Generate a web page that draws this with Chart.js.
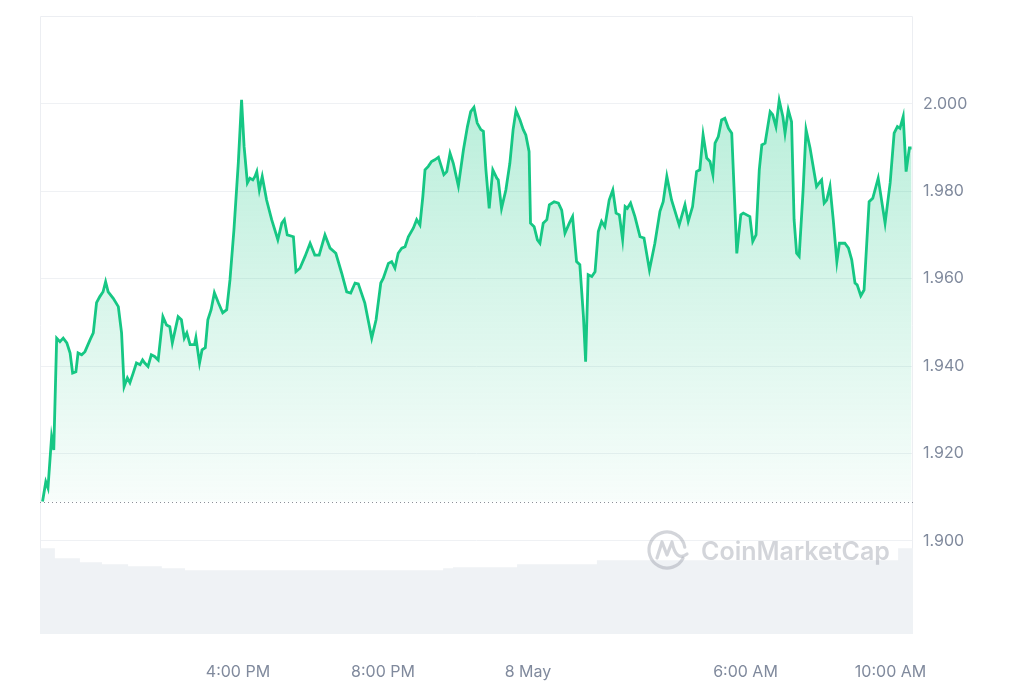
<!DOCTYPE html>
<html lang="en">
<head>
    <meta charset="UTF-8">
    <title>Price chart</title>
    <script src="https://cdn.jsdelivr.net/npm/chart.js"></script>
    <style>
        body { margin: 0; background: #fff; }
    </style>
</head>
<body>
    <canvas id="priceChart" width="1024" height="683"></canvas>

    <script>
        // time in hours relative to 8 May 00:00
        const times = [
            -13.39,-13.30,-13.24,-13.14,-13.08,-13.00,-12.91,-12.82,-12.72,-12.63,
            -12.56,-12.47,-12.41,-12.31,-12.22,-12.08,-11.99,-11.90,-11.81,-11.72,
            -11.65,-11.58,-11.44,-11.30,-11.21,-11.14,-11.05,-10.98,-10.89,-10.80,
            -10.70,-10.63,-10.57,-10.48,-10.39,-10.30,-10.20,-10.07,-9.97,-9.88,
            -9.81,-9.65,-9.56,-9.48,-9.41,-9.32,-9.20,-9.16,-9.06,-8.99,
            -8.90,-8.83,-8.74,-8.65,-8.54,-8.42,-8.31,-8.22,-8.11,-7.99,
            -7.90,-7.83,-7.74,-7.67,-7.59,-7.53,-7.48,-7.41,-7.33,-7.21,
            -7.07,-6.90,-6.79,-6.72,-6.64,-6.47,-6.40,-6.29,-6.15,-6.01,
            -5.88,-5.76,-5.60,-5.46,-5.30,-5.14,-5.00,-4.89,-4.77,-4.68,
            -4.50,-4.41,-4.31,-4.19,-4.06,-3.99,-3.85,-3.76,-3.67,-3.58,
            -3.48,-3.39,-3.30,-3.16,-3.07,-2.98,-2.90,-2.84,-2.75,-2.66,
            -2.57,-2.47,-2.32,-2.24,-2.15,-2.06,-1.92,-1.78,-1.67,-1.58,
            -1.49,-1.40,-1.30,-1.23,-1.16,-1.07,-0.97,-0.86,-0.82,-0.73,
            -0.61,-0.50,-0.41,-0.33,-0.22,-0.13,-0.06,0.03,0.07,0.17,
            0.26,0.33,0.42,0.52,0.59,0.72,0.84,0.93,1.02,1.14,
            1.23,1.34,1.43,1.53,1.59,1.66,1.76,1.85,1.94,2.03,
            2.12,2.24,2.34,2.43,2.52,2.61,2.68,2.74,2.83,2.95,
            3.09,3.20,3.35,3.50,3.64,3.73,3.83,3.96,4.17,4.33,
            4.42,4.54,4.65,4.74,4.83,4.93,5.02,5.10,5.16,5.25,
            5.34,5.43,5.53,5.62,5.76,5.87,5.94,6.12,6.20,6.29,
            6.38,6.45,6.54,6.68,6.75,6.84,6.93,7.03,7.09,7.18,
            7.27,7.34,7.41,7.48,7.59,7.67,7.78,7.96,8.06,8.10,
            8.17,8.24,8.33,8.42,8.52,8.59,8.74,8.84,8.93,9.02,
            9.08,9.18,9.27,9.41,9.51,9.66,9.85,9.99,10.10,10.19,
            10.26,10.35,10.43,10.52,10.58
        ];

        const prices = [
            1.9090,1.9135,1.9121,1.9238,1.9208,1.9464,1.9456,1.9464,1.9453,1.9430,
            1.9384,1.9387,1.9430,1.9426,1.9433,1.9460,1.9476,1.9545,1.9559,1.9570,
            1.9593,1.9570,1.9555,1.9536,1.9476,1.9353,1.9373,1.9362,1.9384,1.9407,
            1.9403,1.9414,1.9407,1.9399,1.9426,1.9422,1.9414,1.9513,1.9494,1.9490,
            1.9453,1.9513,1.9506,1.9464,1.9476,1.9449,1.9449,1.9465,1.9407,1.9437,
            1.9442,1.9506,1.9529,1.9568,1.9545,1.9522,1.9529,1.9597,1.9712,1.9865,
            2.0009,1.9902,1.9819,1.9830,1.9826,1.9834,1.9845,1.9803,1.9834,1.9780,
            1.9735,1.9689,1.9727,1.9735,1.9700,1.9696,1.9616,1.9624,1.9651,1.9681,
            1.9654,1.9654,1.9700,1.9670,1.9658,1.9613,1.9570,1.9567,1.9590,1.9588,
            1.9544,1.9506,1.9464,1.9506,1.9590,1.9601,1.9635,1.9639,1.9624,1.9658,
            1.9670,1.9673,1.9696,1.9716,1.9735,1.9723,1.9788,1.9849,1.9857,1.9868,
            1.9872,1.9878,1.9838,1.9845,1.9887,1.9864,1.9812,1.9895,1.9948,1.9982,
            1.9992,1.9956,1.9941,1.9937,1.9849,1.9761,1.9849,1.9830,1.9826,1.9761,
            1.9803,1.9864,1.9941,1.9985,1.9963,1.9941,1.9929,1.9891,1.9727,1.9719,
            1.9689,1.9681,1.9727,1.9735,1.9769,1.9776,1.9773,1.9757,1.9704,1.9727,
            1.9742,1.9639,1.9632,1.9513,1.9410,1.9609,1.9605,1.9616,1.9708,1.9731,
            1.9719,1.9780,1.9803,1.9750,1.9746,1.9690,1.9765,1.9761,1.9773,1.9742,
            1.9696,1.9693,1.9620,1.9681,1.9754,1.9776,1.9834,1.9780,1.9723,1.9769,
            1.9731,1.9765,1.9845,1.9849,1.9929,1.9876,1.9868,1.9838,1.9910,1.9925,
            1.9963,1.9967,1.9944,1.9933,1.9658,1.9746,1.9750,1.9742,1.9685,1.9700,
            1.9849,1.9906,1.9910,1.9982,1.9975,1.9948,2.0008,1.9971,1.9933,1.9986,
            1.9959,1.9735,1.9658,1.9651,1.9803,1.9941,1.9899,1.9811,1.9822,1.9826,
            1.9773,1.9780,1.9811,1.9735,1.9639,1.9681,1.9681,1.9670,1.9643,1.9590,
            1.9586,1.9561,1.9574,1.9776,1.9784,1.9830,1.9727,1.9819,1.9933,1.9948,
            1.9944,1.9971,1.9845,1.9899,1.9899
        ];

        // volume (24h rolling, arbitrary units) steps
        const volTimes = [-13.46, -13.05, -12.36, -11.75, -11.03, -10.10, -9.46, -2.34, -2.07, -0.30, 1.90, 10.21, 10.62];
        const volumes  = [8.6, 7.6, 7.2, 7.0, 6.8, 6.6, 6.4, 6.6, 6.7, 7.0, 7.4, 8.6, 8.6];

        const tickHours = [-8, -4, 0, 6, 10];
        const tickLabels = ['4:00 PM', '8:00 PM', '8 May', '6:00 AM', '10:00 AM'];
        const priceTicks = [1.90, 1.92, 1.94, 1.96, 1.98, 2.00];

        const openPrice = prices[0];
        const green = '#16c784';
        const gridColor = '#eff1f4';

        // border, opening-price dotted line and watermark
        const decorPlugin = {
            id: 'decor',
            beforeDatasetsDraw(chart) {
                const { ctx, chartArea: a } = chart;
                ctx.save();
                ctx.strokeStyle = '#eceef2';
                ctx.lineWidth = 1;
                ctx.beginPath();
                ctx.moveTo(a.left + 0.5, a.bottom);
                ctx.lineTo(a.left + 0.5, a.top + 0.5);
                ctx.lineTo(a.right - 0.5, a.top + 0.5);
                ctx.lineTo(a.right - 0.5, a.bottom);
                ctx.stroke();
                ctx.restore();
            },
            afterDatasetsDraw(chart) {
                const { ctx, chartArea: a, scales } = chart;
                const y = Math.round(scales.y.getPixelForValue(openPrice)) + 0.5;
                ctx.save();
                ctx.strokeStyle = '#8a8f98';
                ctx.lineWidth = 1;
                ctx.setLineDash([1, 3]);
                ctx.beginPath();
                ctx.moveTo(a.left, y);
                ctx.lineTo(a.right, y);
                ctx.stroke();
                ctx.restore();

                // CoinMarketCap watermark
                ctx.save();
                ctx.strokeStyle = 'rgba(150,156,166,0.42)';
                ctx.fillStyle = 'rgba(150,156,166,0.42)';
                ctx.lineWidth = 3.2;
                ctx.lineCap = 'round';
                ctx.lineJoin = 'round';
                const cx = 667, cy = 550, r = 18;
                ctx.beginPath();
                ctx.arc(cx, cy, r, 0.15 * Math.PI, 1.95 * Math.PI);
                ctx.stroke();
                ctx.beginPath();
                ctx.moveTo(cx - 10, cy + 8);
                ctx.lineTo(cx - 5, cy - 8);
                ctx.lineTo(cx, cy + 5);
                ctx.lineTo(cx + 5, cy - 8);
                ctx.quadraticCurveTo(cx + 9, cy + 12, cx + r + 2, cy + 4);
                ctx.stroke();
                ctx.font = '600 25px Inter, "Open Sans", sans-serif';
                ctx.textBaseline = 'alphabetic';
                ctx.fillText('CoinMarketCap', 701, 560);
                ctx.restore();
            }
        };

        const ctx = document.getElementById('priceChart').getContext('2d');

        const priceChart = new Chart(ctx, {
            type: 'line',
            data: {
                datasets: [
                    {
                        label: 'Price',
                        data: times.map((t, i) => ({ x: t, y: prices[i] })),
                        borderColor: green,
                        borderWidth: 2.8,
                        pointRadius: 0,
                        tension: 0,
                        fill: { value: openPrice },
                        backgroundColor: (c) => {
                            const chart = c.chart;
                            const a = chart.chartArea;
                            if (!a) return 'rgba(22,199,132,0.15)';
                            const base = chart.scales.y.getPixelForValue(openPrice);
                            const g = chart.ctx.createLinearGradient(0, a.top + 80, 0, base);
                            g.addColorStop(0, 'rgba(22,199,132,0.30)');
                            g.addColorStop(1, 'rgba(22,199,132,0.03)');
                            return g;
                        },
                        yAxisID: 'y',
                        order: 1
                    },
                    {
                        label: 'Volume',
                        data: volTimes.map((t, i) => ({ x: t, y: volumes[i] })),
                        stepped: 'before',
                        borderWidth: 0,
                        pointRadius: 0,
                        fill: 'origin',
                        backgroundColor: '#eff2f5',
                        yAxisID: 'yVol',
                        order: 2
                    }
                ]
            },
            options: {
                responsive: false,
                animation: false,
                layout: {
                    padding: { left: 40, top: 16, right: 0, bottom: 0 }
                },
                plugins: {
                    legend: { display: false },
                    tooltip: { enabled: false }
                },
                scales: {
                    x: {
                        type: 'linear',
                        min: -13.46,
                        max: 10.62,
                        afterBuildTicks: (scale) => {
                            scale.ticks = tickHours.map(v => ({ value: v }));
                        },
                        afterFit: (scale) => {
                            scale.height = 49;
                            scale.paddingLeft = 0;
                            scale.paddingRight = 0;
                        },
                        grid: { display: false, drawTicks: false },
                        border: { display: false },
                        ticks: {
                            autoSkip: false,
                            maxRotation: 0,
                            padding: 29,
                            color: '#808a9d',
                            font: { family: 'Inter, "Open Sans", sans-serif', size: 16 },
                            callback: (value) => tickLabels[tickHours.indexOf(value)]
                        }
                    },
                    y: {
                        position: 'right',
                        min: 1.8787,
                        max: 2.0201,
                        afterBuildTicks: (scale) => {
                            scale.ticks = priceTicks.map(v => ({ value: v }));
                        },
                        afterFit: (scale) => {
                            scale.width = 111;
                            scale.paddingTop = 0;
                            scale.paddingBottom = 0;
                        },
                        grid: { color: gridColor, drawTicks: false },
                        border: { display: false },
                        ticks: {
                            padding: 10,
                            color: '#808a9d',
                            font: { family: 'Inter, "Open Sans", sans-serif', size: 16 },
                            callback: (value) => value.toFixed(3)
                        }
                    },
                    yVol: {
                        display: false,
                        min: 0,
                        max: 62
                    }
                }
            },
            plugins: [decorPlugin]
        });
    </script>
</body>
</html>
